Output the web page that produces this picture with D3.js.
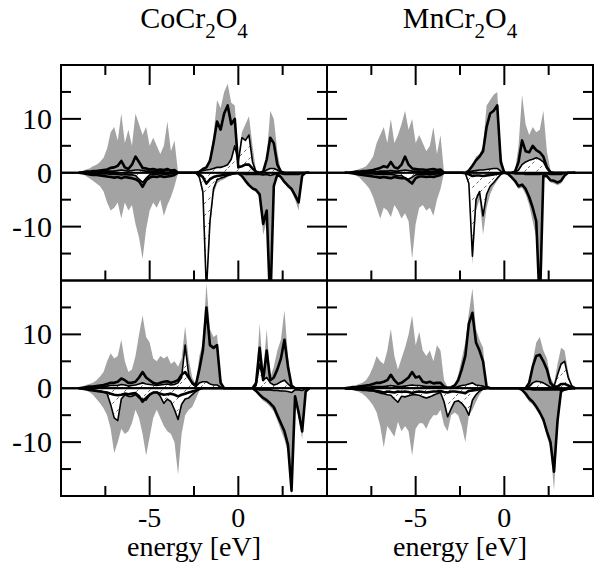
<!DOCTYPE html>
<html>
<head>
<meta charset="utf-8">
<script src="https://cdnjs.cloudflare.com/ajax/libs/d3/7.8.5/d3.min.js"></script>
<style>
  body { margin: 0; background: #fff; }
  text { font-family: "Liberation Serif", "Times New Roman", serif; fill: #000; }
</style>
</head>
<body>
<svg id="chart" width="594" height="565"></svg>
<script>
// energy grid in eV
var energy = [
  -9.0, -8.8, -8.6, -8.4, -8.2, -8.0, -7.8, -7.6, -7.4, -7.2,
  -7.0, -6.8, -6.6, -6.4, -6.2, -6.0, -5.8, -5.6, -5.4, -5.2,
  -5.0, -4.8, -4.6, -4.4, -4.2, -4.0, -3.8, -3.6, -3.4, -3.2,
  -3.0, -2.8, -2.6, -2.4, -2.2, -2.0, -1.8, -1.6, -1.4, -1.2,
  -1.0, -0.8, -0.6, -0.4, -0.2, 0.0, 0.2, 0.4, 0.6, 0.8,
  1.0, 1.2, 1.4, 1.6, 1.8, 2.0, 2.2, 2.4, 2.6, 2.8,
  3.0, 3.2, 3.4, 3.6, 3.8, 4.0
];

var compounds = ["CoCr2O4", "MnCr2O4"];
var xTickLabels = [-5, 0];
var yTickLabels = [-10, 0, 10];

// CoCr2O4, upper row (down-spin values are magnitudes)
var coTopTotUp = [
  0, 0.3, 0.6, 0.8, 1.2, 1.5, 2.0, 2.8, 4.5, 7.5,
  8.5, 6.0, 11.0, 5.5, 8.0, 5.0, 11.0, 9.0, 7.0, 8.5,
  5.0, 6.5, 5.0, 3.5, 5.0, 9.5, 4.0, 6.0, 0, 0,
  0, 0, 0, 0, 0.3, 0.8, 1.2, 3.0, 7.0, 13.5,
  12.0, 15.0, 16.5, 13.0, 12.5, 3.0, 7.5, 9.0, 10.5, 5.0,
  0.3, 0, 0.2, 3.0, 11.5, 10.0, 4.0, 0.3, 0, 0,
  0, 0, 0, 0, 0, 0
];
var coTopCrUp = [
  0, 0.1, 0.2, 0.2, 0.3, 0.3, 0.4, 0.5, 0.6, 0.9,
  1.0, 1.3, 2.2, 1.0, 0.7, 1.5, 3.0, 2.0, 0.9, 0.8,
  0.6, 0.7, 0.5, 0.6, 0.5, 0.7, 0.4, 0.5, 0, 0,
  0, 0, 0, 0, 0.2, 0.7, 1.0, 2.2, 5.5, 9.5,
  8.0, 11.0, 12.5, 9.0, 10.0, 1.0, 1.2, 1.5, 1.5, 0.8,
  0.2, 0, 0.2, 2.5, 6.5, 5.5, 1.5, 0.2, 0, 0,
  0, 0, 0, 0, 0, 0
];
var coTopAUp = [
  0, 0, 0.1, 0.1, 0.1, 0.2, 0.2, 0.2, 0.3, 0.3,
  0.3, 0.4, 0.5, 0.4, 0.3, 0.4, 0.5, 0.5, 0.4, 0.3,
  0.3, 0.3, 0.3, 0.3, 0.3, 0.4, 0.3, 0.2, 0, 0,
  0, 0, 0, 0, 0.2, 0.4, 0.5, 0.6, 0.8, 1.0,
  1.0, 1.2, 1.5, 2.5, 5.0, 2.0, 6.5, 6.0, 7.0, 2.0,
  0.2, 0, 0.1, 0.5, 0.8, 0.8, 0.5, 0.1, 0, 0,
  0, 0, 0, 0, 0, 0
];
var coTopTotDn = [
  0, 0.2, 0.6, 1.0, 1.5, 2.0, 2.5, 3.5, 5.5, 7.0,
  6.5, 5.5, 8.5, 5.5, 7.0, 6.0, 9.5, 12.0, 16.0, 10.5,
  7.0, 5.5, 6.5, 5.0, 8.0, 6.0, 4.5, 2.5, 0, 0,
  0, 0, 0, 0, 1.2, 4.5, 24, 10.5, 4.0, 2.0,
  1.5, 1.2, 0.8, 0.5, 0.3, 0.2, 0.8, 1.8, 2.6, 3.2,
  3.6, 4.5, 11.5, 9.0, 25, 3.0, 0.5, 1.0, 2.0, 2.8,
  3.5, 5.0, 7.0, 1.0, 0, 0
];
var coTopCrDn = [
  0, 0.1, 0.2, 0.3, 0.4, 0.4, 0.5, 0.6, 0.7, 0.8,
  0.9, 0.8, 1.0, 0.8, 0.9, 1.0, 1.2, 1.6, 2.6, 1.4,
  0.9, 0.7, 0.8, 0.6, 0.8, 0.7, 0.6, 0.4, 0, 0,
  0, 0, 0, 0, 0.3, 0.8, 2.0, 1.2, 0.8, 0.6,
  0.5, 0.4, 0.3, 0.2, 0.1, 0.1, 0.6, 1.5, 2.3, 2.9,
  3.2, 4.0, 9.5, 7.0, 25, 2.5, 0.3, 0.8, 1.7, 2.4,
  3.0, 4.2, 5.5, 0.5, 0, 0
];
var coTopADn = [
  0, 0, 0.1, 0.1, 0.1, 0.1, 0.2, 0.2, 0.2, 0.3,
  0.3, 0.3, 0.4, 0.3, 0.4, 0.4, 0.5, 1.2, 1.8, 1.0,
  0.4, 0.3, 0.3, 0.2, 0.3, 0.3, 0.2, 0.2, 0, 0,
  0, 0, 0, 0, 0.8, 3.5, 22, 9.0, 3.0, 1.3,
  1.0, 0.8, 0.5, 0.3, 0.2, 0.1, 0.2, 0.3, 0.3, 0.3,
  0.3, 0.3, 0.4, 0.3, 0.5, 0.3, 0.1, 0.2, 0.3, 0.3,
  0.3, 0.3, 0.3, 0.1, 0, 0
];

// MnCr2O4, upper row
var mnTopTotUp = [
  0, 0, 0.2, 0.4, 0.7, 0.9, 1.2, 2.0, 3.0, 5.5,
  7.0, 8.5, 5.5, 10.0, 5.5, 7.0, 9.0, 11.5, 8.0, 10.0,
  5.5, 7.0, 5.5, 4.0, 5.0, 8.5, 3.5, 7.0, 0, 0,
  0, 0, 0, 0, 0, 0.5, 1.5, 3.0, 3.5, 5.0,
  12.5, 13.5, 14.5, 15.0, 4.0, 0, 0, 0, 0.3, 5.0,
  14.5, 9.0, 7.0, 8.5, 7.5, 8.0, 11.5, 4.0, 0.5, 0,
  0, 0, 0, 0, 0, 0
];
var mnTopCrUp = [
  0, 0, 0.1, 0.2, 0.2, 0.3, 0.3, 0.4, 0.5, 0.7,
  0.9, 1.2, 1.0, 2.0, 1.0, 0.8, 1.5, 3.0, 1.5, 0.8,
  0.7, 0.6, 0.6, 0.5, 0.6, 0.7, 0.5, 0.6, 0, 0,
  0, 0, 0, 0, 0, 0.4, 1.3, 2.3, 3.0, 4.0,
  8.5, 11.0, 11.5, 12.5, 2.0, 0, 0, 0, 0.2, 2.0,
  6.0, 4.0, 3.8, 5.0, 4.2, 3.8, 3.0, 1.0, 0.1, 0,
  0, 0, 0, 0, 0, 0
];
var mnTopAUp = [
  0, 0, 0, 0.1, 0.1, 0.1, 0.1, 0.2, 0.2, 0.2,
  0.3, 0.3, 0.3, 0.4, 0.3, 0.3, 0.4, 0.5, 0.4, 0.3,
  0.3, 0.3, 0.2, 0.2, 0.2, 0.3, 0.2, 0.2, 0, 0,
  0, 0, 0, 0, 0, 0.2, 0.3, 0.4, 0.5, 0.5,
  0.6, 0.7, 0.8, 0.8, 0.3, 0, 0, 0, 0.1, 0.5,
  1.5, 2.0, 2.3, 2.5, 2.8, 2.5, 2.0, 0.8, 0.1, 0,
  0, 0, 0, 0, 0, 0
];
var mnTopTotDn = [
  0, 0, 0.2, 0.5, 0.8, 1.5, 2.2, 3.0, 4.5, 6.5,
  8.5, 6.5, 7.0, 8.2, 6.0, 7.0, 8.5, 7.5, 9.0, 16.0,
  9.5, 6.5, 6.0, 7.0, 6.5, 8.0, 5.0, 3.0, 0, 0,
  0, 0, 0, 0, 0.2, 2.5, 17.0, 7.0, 5.0, 11.5,
  6.5, 4.0, 2.5, 1.5, 0.5, 0, 0.3, 1.0, 2.0, 3.0,
  2.8, 4.0, 6.0, 9.0, 12.0, 25, 1.0, 1.0, 1.8, 2.0,
  2.3, 2.0, 0.8, 0, 0, 0
];
var mnTopCrDn = [
  0, 0, 0.1, 0.2, 0.3, 0.4, 0.5, 0.6, 0.7, 0.8,
  0.9, 0.8, 0.9, 1.0, 0.8, 0.9, 1.0, 1.0, 1.5, 2.0,
  1.0, 0.7, 0.7, 0.8, 0.7, 0.8, 0.6, 0.4, 0, 0,
  0, 0, 0, 0, 0.1, 0.3, 0.6, 0.5, 0.5, 0.6,
  0.5, 0.4, 0.3, 0.2, 0.1, 0, 0.2, 0.8, 1.5, 2.5,
  2.2, 3.0, 4.5, 6.5, 9.0, 25, 0.5, 0.6, 1.4, 1.5,
  1.8, 1.5, 0.5, 0, 0, 0
];
var mnTopADn = [
  0, 0, 0, 0.1, 0.1, 0.1, 0.2, 0.2, 0.2, 0.3,
  0.3, 0.3, 0.3, 0.3, 0.4, 0.5, 0.5, 1.0, 1.2, 0.8,
  0.4, 0.3, 0.3, 0.3, 0.3, 0.3, 0.2, 0.2, 0, 0,
  0, 0, 0, 0, 0.1, 2.0, 15.5, 5.0, 3.5, 8.0,
  4.0, 2.5, 1.8, 1.0, 0.3, 0, 0, 0.1, 0.2, 0.2,
  0.2, 0.3, 0.3, 0.3, 0.3, 0.3, 0.2, 0.2, 0.3, 0.3,
  0.3, 0.3, 0.1, 0, 0, 0
];

// CoCr2O4, lower row
var coBotTotUp = [
  0, 0.3, 0.6, 0.8, 1.0, 1.5, 2.2, 3.0, 5.0, 6.5,
  5.5, 6.0, 9.0, 5.0, 3.0, 3.5, 6.0, 10.0, 13.5, 9.5,
  8.5, 5.5, 5.0, 6.0, 5.5, 6.0, 4.5, 5.0, 4.0, 5.5,
  11.5, 5.5, 2.0, 0.8, 6.0, 8.5, 19.5, 11.0, 9.5, 10.0,
  2.0, 0, 0, 0, 0, 0, 0, 0, 0, 0,
  1.5, 12.0, 3.0, 11.0, 2.0, 4.0, 7.0, 9.0, 14.5, 6.0,
  0.8, 0, 0, 0, 0, 0
];
var coBotCrUp = [
  0, 0.1, 0.2, 0.3, 0.3, 0.4, 0.5, 0.6, 0.8, 1.0,
  1.0, 1.2, 1.8, 1.5, 1.0, 1.0, 1.2, 2.0, 3.0, 2.0,
  1.5, 1.0, 0.8, 1.0, 1.2, 1.3, 1.0, 1.2, 1.5, 2.5,
  3.0, 2.0, 1.0, 0.5, 3.5, 7.0, 15.0, 8.0, 7.5, 8.0,
  1.0, 0, 0, 0, 0, 0, 0, 0, 0, 0,
  1.0, 7.5, 1.5, 7.0, 1.5, 2.0, 3.5, 5.5, 9.0, 4.0,
  0.5, 0, 0, 0, 0, 0
];
var coBotAUp = [
  0, 0.1, 0.1, 0.2, 0.2, 0.2, 0.3, 0.3, 0.4, 0.5,
  0.5, 0.5, 0.7, 0.6, 0.4, 0.5, 0.6, 0.8, 1.0, 0.8,
  0.7, 0.6, 0.5, 0.6, 0.7, 0.8, 0.6, 0.7, 1.0, 2.0,
  8.0, 2.5, 0.8, 0.3, 1.0, 1.2, 1.2, 0.8, 0.6, 0.6,
  0.2, 0, 0, 0, 0, 0, 0, 0, 0, 0,
  0.5, 4.5, 1.5, 2.0, 1.0, 0.6, 0.8, 1.2, 1.5, 0.8,
  0.2, 0, 0, 0, 0, 0
];
var coBotTotDn = [
  0, 0.2, 0.4, 0.7, 1.2, 2.0, 2.8, 3.7, 5.0, 7.5,
  12.0, 10.0, 7.5, 8.5, 8.0, 6.5, 4.0, 5.5, 8.5, 12.5,
  9.0, 5.5, 4.0, 5.5, 7.0, 8.0, 8.5, 10.0, 16.0, 8.5,
  5.0, 4.0, 3.5, 2.0, 0.5, 0, 0, 0, 0, 0,
  0, 0, 0, 0, 0, 0, 0, 0, 0, 0,
  0.8, 1.6, 2.3, 2.8, 3.5, 4.3, 6.0, 7.8, 9.5, 12.0,
  20.0, 2.5, 5.5, 9.5, 1.0, 0
];
var coBotCrDn = [
  0, 0.1, 0.2, 0.3, 0.4, 0.5, 0.6, 0.7, 0.8, 1.0,
  1.2, 1.3, 1.2, 1.0, 1.1, 1.0, 0.9, 1.5, 2.5, 1.8,
  1.2, 0.8, 0.8, 1.0, 1.2, 1.1, 1.0, 1.2, 1.5, 1.2,
  1.0, 0.8, 0.6, 0.4, 0.1, 0, 0, 0, 0, 0,
  0, 0, 0, 0, 0, 0, 0, 0, 0, 0,
  0.5, 1.2, 1.8, 2.2, 2.8, 3.5, 5.0, 6.5, 8.0, 10.5,
  19.0, 1.5, 4.5, 8.0, 0.6, 0
];
var coBotADn = [
  0, 0, 0.1, 0.2, 0.3, 0.4, 0.5, 0.7, 1.0, 3.0,
  5.5, 6.0, 2.0, 1.2, 1.5, 1.5, 1.2, 1.8, 2.0, 2.2,
  1.2, 0.8, 0.7, 1.5, 2.8, 2.0, 2.5, 4.0, 5.8, 3.0,
  2.0, 1.8, 1.2, 0.6, 0.2, 0, 0, 0, 0, 0,
  0, 0, 0, 0, 0, 0, 0, 0, 0, 0,
  0.2, 0.3, 0.3, 0.3, 0.3, 0.4, 0.4, 0.5, 0.5, 0.6,
  0.8, 0.3, 0.3, 0.4, 0.1, 0
];

// MnCr2O4, lower row
var mnBotTotUp = [
  0, 0.1, 0.3, 0.5, 0.8, 1.0, 1.5, 2.5, 4.0, 6.0,
  5.0, 4.5, 7.0, 11.0, 6.0, 3.5, 5.5, 7.5, 10.0, 13.5,
  8.0, 10.5, 7.0, 6.0, 7.0, 5.0, 8.0, 7.0, 1.5, 0.3,
  0.3, 0.6, 2.5, 5.5, 8.5, 14.0, 18.5, 11.0, 9.0, 7.5,
  0.3, 0, 0, 0, 0, 0, 0, 0, 0, 0,
  0, 0, 1.5, 5.0, 8.5, 9.5, 7.0, 5.5, 2.0, 0.8,
  4.5, 7.5, 7.0, 3.0, 0.6, 0
];
var mnBotCrUp = [
  0, 0.1, 0.2, 0.2, 0.3, 0.4, 0.5, 0.6, 0.8, 1.0,
  1.0, 1.2, 1.5, 2.5, 1.5, 0.8, 1.0, 1.5, 2.0, 3.0,
  2.0, 2.2, 1.2, 1.0, 1.2, 0.9, 1.0, 1.0, 0.3, 0.1,
  0.2, 0.5, 1.5, 3.5, 6.0, 12.0, 14.0, 8.5, 7.0, 5.0,
  0.3, 0, 0, 0, 0, 0, 0, 0, 0, 0,
  0, 0, 1.0, 4.0, 6.0, 6.2, 5.0, 3.5, 1.0, 0.3,
  0.3, 0.8, 0.8, 0.5, 0.2, 0
];
var mnBotAUp = [
  0, 0, 0.1, 0.1, 0.1, 0.2, 0.2, 0.2, 0.3, 0.3,
  0.3, 0.3, 0.4, 0.5, 0.4, 0.3, 0.3, 0.4, 0.5, 0.6,
  0.5, 0.5, 0.4, 0.3, 0.3, 0.3, 0.3, 0.3, 0.1, 0,
  0, 0.1, 0.3, 0.5, 0.6, 0.8, 1.0, 0.6, 0.5, 0.4,
  0.1, 0, 0, 0, 0, 0, 0, 0, 0, 0,
  0, 0, 0.3, 1.0, 1.3, 1.2, 1.0, 0.6, 0.2, 0.3,
  2.5, 4.5, 5.0, 2.0, 0.5, 0
];
var mnBotTotDn = [
  0, 0.1, 0.2, 0.4, 0.7, 1.0, 1.6, 2.3, 3.2, 4.5,
  7.0, 11.0, 7.0, 8.0, 9.0, 6.2, 8.0, 7.0, 8.0, 12.5,
  7.5, 6.5, 6.5, 7.5, 6.0, 5.0, 5.0, 4.0, 6.8, 8.0,
  5.0, 4.5, 5.0, 7.0, 10.0, 5.0, 4.0, 2.5, 1.2, 0.3,
  0, 0, 0, 0, 0, 0, 0, 0, 0, 0,
  0.5, 1.5, 2.5, 3.0, 4.0, 5.0, 6.5, 9.0, 11.0, 19.0,
  8.0, 1.0, 0.5, 0.3, 0, 0
];
var mnBotCrDn = [
  0, 0.1, 0.1, 0.2, 0.2, 0.3, 0.3, 0.4, 0.4, 0.5,
  0.6, 0.8, 0.6, 0.7, 0.8, 0.6, 0.7, 0.6, 0.7, 0.9,
  0.7, 0.6, 0.7, 0.8, 0.7, 0.6, 0.6, 0.5, 0.7, 0.8,
  0.6, 0.6, 0.7, 0.8, 0.9, 0.5, 0.4, 0.3, 0.2, 0.1,
  0, 0, 0, 0, 0, 0, 0, 0, 0, 0,
  0.3, 1.0, 1.9, 2.5, 3.4, 4.5, 5.8, 8.0, 10.0, 15.5,
  6.0, 0.5, 0.2, 0.1, 0, 0
];
var mnBotADn = [
  0, 0.1, 0.1, 0.1, 0.2, 0.2, 0.3, 0.3, 0.5, 0.7,
  0.9, 1.0, 1.2, 1.3, 2.0, 2.6, 1.5, 1.6, 1.4, 1.2,
  1.2, 1.3, 1.6, 1.8, 1.6, 1.3, 1.0, 0.8, 2.5, 5.3,
  3.8, 2.5, 2.3, 2.8, 3.6, 5.0, 2.2, 1.2, 0.5, 0.2,
  0, 0, 0, 0, 0, 0, 0, 0, 0, 0,
  0.1, 0.2, 0.2, 0.3, 0.3, 0.3, 0.3, 0.3, 0.3, 0.3,
  0.3, 0.3, 0.3, 0.2, 0.1, 0
];

var Dos = (function(){
  var svg, W = 266, H = 215.5;
  var colLeft = [61, 327], rowTop = [65, 280.5];
  var grey = '#a3a3a3';
  var serif = '"Liberation Serif", "Times New Roman", serif';

  var panels = [
    {col: 0, row: 0, tot: [coTopTotUp, coTopTotDn], cr: [coTopCrUp, coTopCrDn], a: [coTopAUp, coTopADn]},
    {col: 1, row: 0, tot: [mnTopTotUp, mnTopTotDn], cr: [mnTopCrUp, mnTopCrDn], a: [mnTopAUp, mnTopADn]},
    {col: 0, row: 1, tot: [coBotTotUp, coBotTotDn], cr: [coBotCrUp, coBotCrDn], a: [coBotAUp, coBotADn]},
    {col: 1, row: 1, tot: [mnBotTotUp, mnBotTotDn], cr: [mnBotCrUp, mnBotCrDn], a: [mnBotAUp, mnBotADn]}
  ];

  var addDefs = function(){
    var defs = svg.append('defs');
    var pat = defs.append('pattern')
      .attr('id', 'hatch')
      .attr('patternUnits', 'userSpaceOnUse')
      .attr('width', 12).attr('height', 12);
    pat.append('rect').attr('width', 12).attr('height', 12).attr('fill', '#fff');
    pat.append('path')
      .attr('d', 'M0,12 L12,0')
      .attr('stroke', '#000').attr('stroke-width', 0.6)
      .attr('stroke-dasharray', '3,3');
    panels.forEach(function(p, i){
      defs.append('clipPath').attr('id', 'clip' + i)
        .append('rect')
        .attr('x', colLeft[p.col]).attr('y', rowTop[p.row])
        .attr('width', W).attr('height', H);
    });
  }

  var drawPanel = function(p, i){
    var x0 = colLeft[p.col], y0 = rowTop[p.row];
    var x = d3.scaleLinear().domain([-10, 5]).range([x0, x0 + W]);
    var y = d3.scaleLinear().domain([-20, 20]).range([y0 + H, y0]);
    var g = svg.append('g');
    var plot = g.append('g').attr('clip-path', 'url(#clip' + i + ')');

    [1, -1].forEach(function(sign, s){
      var area = d3.area()
        .x(function(d, k){ return x(energy[k]); })
        .y0(y(0))
        .y1(function(d){ return y(sign * d); });
      var line = d3.line()
        .x(function(d, k){ return x(energy[k]); })
        .y(function(d){ return y(sign * d); });

      plot.append('path').datum(p.tot[s])
        .attr('d', area).attr('fill', grey);
      plot.append('path').datum(p.a[s])
        .attr('d', area).attr('fill', 'url(#hatch)')
        .attr('stroke', '#000').attr('stroke-width', 1.6)
        .attr('stroke-linejoin', 'round');
      plot.append('path').datum(p.cr[s])
        .attr('d', line).attr('fill', 'none')
        .attr('stroke', '#000').attr('stroke-width', 2.6)
        .attr('stroke-linejoin', 'round');
    });

    g.append('line')
      .attr('x1', x0).attr('x2', x0 + W)
      .attr('y1', y(0)).attr('y2', y(0))
      .attr('stroke', '#000').attr('stroke-width', 2.2);

    // ticks, all pointing inward
    var ticks = g.append('g').attr('stroke', '#000').attr('stroke-width', 2);
    var xt = [-7.5, -5, -2.5, 0, 2.5];
    var yt = [-15, -10, -5, 0, 5, 10, 15];
    var len = function(v, step){ return v % step === 0 ? 20 : 10; };
    xt.forEach(function(v){
      var l = len(v, 5);
      if (p.row === 0) {
        ticks.append('line').attr('x1', x(v)).attr('x2', x(v))
          .attr('y1', y0).attr('y2', y0 + l);
      }
      ticks.append('line').attr('x1', x(v)).attr('x2', x(v))
        .attr('y1', y0 + H).attr('y2', y0 + H - l);
    });
    yt.forEach(function(v){
      var l = len(v, 10);
      ticks.append('line').attr('x1', x0).attr('x2', x0 + l)
        .attr('y1', y(v)).attr('y2', y(v));
      ticks.append('line').attr('x1', x0 + W).attr('x2', x0 + W - l)
        .attr('y1', y(v)).attr('y2', y(v));
    });

    g.append('rect')
      .attr('x', x0).attr('y', y0).attr('width', W).attr('height', H)
      .attr('fill', 'none').attr('stroke', '#000').attr('stroke-width', 2);

    if (p.col === 0) {
      g.selectAll('.ylab').data(yTickLabels).enter().append('text')
        .attr('x', x0 - 9).attr('y', function(d){ return y(d) + 10; })
        .attr('text-anchor', 'end')
        .attr('font-family', serif).attr('font-size', 30)
        .text(function(d){ return d; });
    }
    if (p.row === 1) {
      g.selectAll('.xlab').data(xTickLabels).enter().append('text')
        .attr('x', function(d){ return x(d); }).attr('y', 527)
        .attr('text-anchor', 'middle')
        .attr('font-family', serif).attr('font-size', 28)
        .text(function(d){ return d; });
      g.append('text')
        .attr('x', x0 + W / 2).attr('y', 556)
        .attr('text-anchor', 'middle')
        .attr('font-family', serif).attr('font-size', 28)
        .text('energy [eV]');
    }
    if (p.row === 0) {
      var t = g.append('text')
        .attr('x', x0 + W / 2).attr('y', 38)
        .attr('text-anchor', 'middle')
        .attr('font-family', serif).attr('font-size', 30);
      compounds[p.col].match(/[A-Za-z]+|\d+/g).forEach(function(part){
        var sub = /\d/.test(part);
        t.append('tspan')
          .attr('font-size', sub ? 21 : 30)
          .attr('dy', sub ? 10 : (t.selectAll('tspan').size() ? -10 : 0))
          .text(part);
      });
    }
  }

  var init = function(){
    svg = d3.select('#chart');
    addDefs();
    panels.forEach(drawPanel);
  }

  return {
    init : init
  }
})();

Dos.init();
</script>
</body>
</html>
